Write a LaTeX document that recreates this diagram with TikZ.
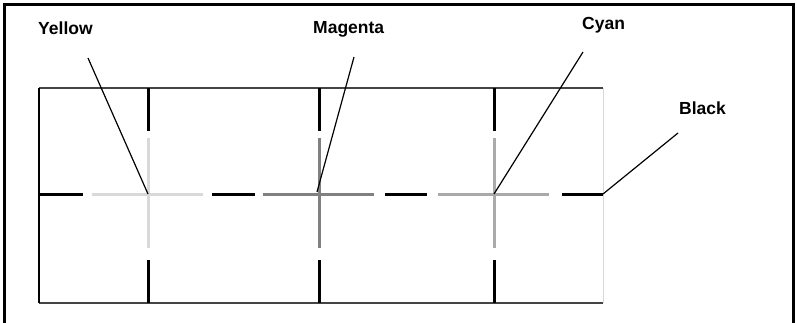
\documentclass[tikz,border=0pt]{standalone}
\usepackage{fontspec}
\setmainfont{Liberation Sans}
\usetikzlibrary{calc}

\definecolor{yelgray}{HTML}{D9D9D9}
\definecolor{maggray}{HTML}{808080}
\definecolor{cyagray}{HTML}{AAAAAA}
\definecolor{rimgray}{HTML}{444444}

\tikzset{
  lbl/.style={anchor=base west, inner sep=0pt, font=\bfseries\fontsize{17.5}{20}\selectfont},
  regmark/.style={line width=3pt, black},
  cross/.style={line width=3pt},
  leader/.style={line width=1.2pt, black}
}

\begin{document}
\begin{tikzpicture}[x=1pt, y=-1pt]
        \useasboundingbox (0,0) rectangle (797,323);

        % 外框 (底边开口)
        \draw[line width=3pt] (4,323) -- (4,5) -- (793,5) -- (793,323);

        % 内部矩形
        \draw[rimgray, line width=1.5pt] (603,88) -- (39,88);
        \draw[rimgray, line width=1.5pt] (39,303) -- (603,303);
        \draw[black, line width=1.6pt] (39,88) -- (39,303);
        \draw[yelgray, line width=1pt] (603,88) -- (603,303);

        % 三个十字中心
        \coordinate (cy) at (148,194);
        \coordinate (cm) at (319,194);
        \coordinate (cc) at (494,194);
        \coordinate (ck) at (603,194);

        % 黑色竖直套准线
        \foreach \c in {cy,cm,cc} {
            \draw[regmark] (\c |- 0,88) -- (\c |- 0,131);
            \draw[regmark] (\c |- 0,260) -- (\c |- 0,303);
        }

        % 黑色水平套准线
        \draw[regmark] (39,194) -- (83,194);
        \draw[regmark] (212,194) -- (255,194);
        \draw[regmark] (385,194) -- (427,194);
        \draw[regmark] (562,194) -- (ck);

        % 彩色十字
        \foreach \c/\col in {cy/yelgray, cm/maggray, cc/cyagray} {
            \draw[cross, \col] ($(\c)+(0,-56)$) -- ($(\c)+(0,54)$);
            \draw[cross, \col] ($(\c)+(-56,0)$) -- ($(\c)+(55,0)$);
        }

        % 标签
        \node[lbl] (yel) at (38,35) {Yellow};
        \node[lbl] (mag) at (313,34) {Magenta};
        \node[lbl] (cya) at (582,30) {Cyan};
        \node[lbl] (blk) at (679,115) {Black};

        % 引线
        \coordinate (yel_end) at (88,58);
        \coordinate (mag_end) at (354,57);
        \coordinate (cya_end) at (583,52);
        \coordinate (blk_end) at (678,133);
        \draw[leader] (yel_end) -- (cy);
        \draw[leader] (mag_end) -- ($(cm)+(-2,-2)$);
        \draw[leader] (cya_end) -- (cc);
        \draw[leader] (blk_end) -- (ck);
    \end{tikzpicture}
\end{document}
